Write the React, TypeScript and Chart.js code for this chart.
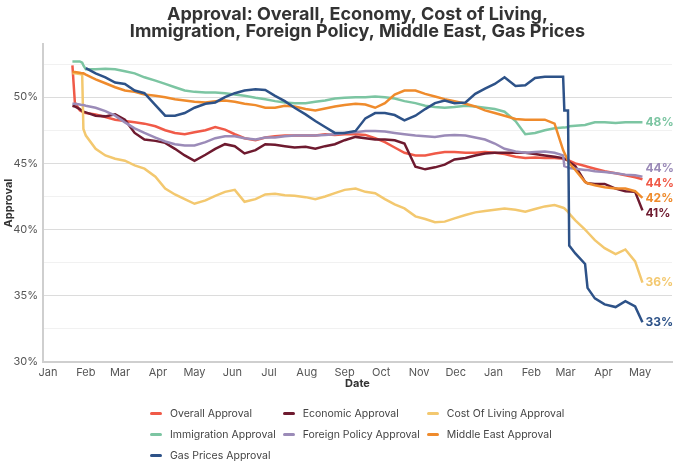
import React, { useEffect, useRef } from "react";
import { Chart, registerables } from "chart.js";

Chart.register(...registerables);

const FONT = "Inter, 'Open Sans', sans-serif";

const titleLines = [
  "Approval: Overall, Economy, Cost of Living,",
  "Immigration, Foreign Policy, Middle East, Gas Prices",
];

// Days since 1 Jan 2025
const days = [
  20, 22, 26, 28, 29, 31, 39, 47, 55, 63, 71, 79, 88, 96, 104, 112, 120, 129, 137, 145, 153, 161,
  170, 178, 186, 194, 202, 211, 219, 227, 235, 243, 252, 260, 268, 276, 284, 292, 301, 309, 317,
  325, 333, 342, 350, 358, 366, 374, 383, 391, 399, 407, 415, 422, 423, 426, 427, 432, 440, 442,
  448, 456, 465, 473, 481, 487,
];

const overallApproval = [
  52.4, 49.6, 49.0, 48.9, 48.85, 48.8, 48.7, 48.5, 48.3, 48.2, 48.1, 48.0, 47.8, 47.5, 47.3, 47.2,
  47.35, 47.5, 47.75, 47.55, 47.2, 46.9, 46.75, 46.95, 47.05, 47.1, 47.1, 47.1, 47.1, 47.2, 47.15,
  47.2, 47.2, 47.15, 46.9, 46.6, 46.2, 45.8, 45.6, 45.6, 45.75, 45.85, 45.85, 45.8, 45.8, 45.85,
  45.8, 45.7, 45.5, 45.4, 45.45, 45.4, 45.4, 45.35, 45.35, 45.3, 45.2, 45.0, 44.8, 44.75, 44.6,
  44.4, 44.25, 44.1, 43.95, 43.8,
];

const economicApproval = [
  49.35, 49.3, 49.1, 48.95, 48.9, 48.85, 48.6, 48.55, 48.7, 48.3, 47.3, 46.8, 46.7, 46.55, 46.1,
  45.6, 45.2, 45.65, 46.1, 46.45, 46.3, 45.75, 46.0, 46.45, 46.4, 46.3, 46.2, 46.25, 46.1, 46.3,
  46.45, 46.75, 47.0, 46.9, 46.8, 46.8, 46.75, 46.5, 44.75, 44.55, 44.7, 44.9, 45.3, 45.4, 45.6,
  45.75, 45.8, 45.8, 45.8, 45.8, 45.7, 45.6, 45.5, 45.4, 45.35, 45.2, 45.1, 44.8, 43.6, 43.5,
  43.45, 43.45, 43.1, 42.9, 42.85, 41.45,
];

const costOfLivingApproval = [
  51.8, 51.8, 51.75, 51.7, 47.6, 47.1, 46.1, 45.6, 45.35, 45.2, 44.85, 44.6, 44.0, 43.1, 42.65,
  42.3, 41.95, 42.2, 42.55, 42.85, 43.0, 42.1, 42.3, 42.65, 42.7, 42.6, 42.55, 42.45, 42.3, 42.5,
  42.75, 43.0, 43.1, 42.85, 42.75, 42.3, 41.9, 41.6, 41.0, 40.8, 40.55, 40.6, 40.85, 41.1, 41.3,
  41.4, 41.5, 41.6, 41.5, 41.35, 41.55, 41.75, 41.85, 41.65, 41.6, 41.35, 41.2, 40.7, 40.0, 39.8,
  39.2, 38.6, 38.15, 38.5, 37.6, 36.0,
];

const immigrationApproval = [
  52.7, 52.7, 52.7, 52.6, 52.4, 52.1, 52.1, 52.15, 52.1, 51.95, 51.8, 51.5, 51.25, 51.0, 50.75,
  50.5, 50.4, 50.35, 50.35, 50.3, 50.2, 50.1, 49.95, 49.85, 49.7, 49.6, 49.55, 49.55, 49.65, 49.75,
  49.9, 49.95, 50.0, 50.0, 50.05, 50.0, 49.9, 49.7, 49.55, 49.35, 49.25, 49.2, 49.25, 49.35, 49.3,
  49.2, 49.1, 48.9, 48.2, 47.2, 47.3, 47.5, 47.65, 47.7, 47.7, 47.75, 47.8, 47.85, 47.9, 47.95,
  48.1, 48.1, 48.05, 48.1, 48.1, 48.1,
];

const foreignPolicyApproval = [
  49.5, 49.5, 49.45, 49.4, 49.4, 49.35, 49.2, 48.95, 48.6, 48.1, 47.65, 47.3, 46.95, 46.65, 46.45,
  46.35, 46.35, 46.6, 46.9, 47.05, 47.05, 46.9, 46.8, 46.95, 46.95, 47.05, 47.1, 47.1, 47.1, 47.15,
  47.2, 47.3, 47.35, 47.45, 47.45, 47.4, 47.3, 47.2, 47.1, 47.05, 47.0, 47.1, 47.15, 47.1, 46.95,
  46.8, 46.5, 46.1, 45.9, 45.8, 45.85, 45.9, 45.8, 45.6, 44.8, 44.7, 44.65, 44.6, 44.5, 44.5,
  44.4, 44.35, 44.25, 44.15, 44.1, 44.0,
];

const middleEastApproval = [
  51.9, 51.9, 51.85, 51.8, 51.8, 51.7, 51.35, 51.05, 50.75, 50.5, 50.4, 50.2, 50.1, 50.0, 49.85,
  49.75, 49.65, 49.6, 49.7, 49.75, 49.65, 49.5, 49.4, 49.2, 49.2, 49.35, 49.3, 49.1, 49.0, 49.15,
  49.3, 49.4, 49.5, 49.45, 49.2, 49.55, 50.2, 50.5, 50.5, 50.25, 50.05, 49.85, 49.7, 49.5, 49.3,
  49.0, 48.8, 48.6, 48.35, 48.3, 48.3, 48.3, 48.0, 46.0, 45.8, 45.2, 45.0, 44.5, 43.6, 43.5,
  43.35, 43.2, 43.1, 43.1, 42.9, 42.4,
];

const gasPricesApproval = [
  null, null, null, null, null, 52.2, 51.8, 51.5, 51.1, 51.0, 50.5, 50.3, 49.4, 48.6, 48.6,
  48.8, 49.2, 49.5, 49.6, 50.0, 50.3, 50.5, 50.6, 50.55, 50.1, 49.7, 49.2, 48.7, 48.2, 47.75,
  47.3, 47.3, 47.45, 48.4, 48.8, 48.8, 48.65, 48.25, 48.6, 49.1, 49.55, 49.75, 49.55, 49.6, 50.25,
  50.65, 51.0, 51.5, 50.85, 50.9, 51.45, 51.55, 51.55, 51.55, 49.0, 49.0, 38.8, 38.2, 37.4, 35.6,
  34.8, 34.35, 34.15, 34.6, 34.2, 33.0,
];

const seriesNames = [
  "Overall Approval",
  "Economic Approval",
  "Cost Of Living Approval",
  "Immigration Approval",
  "Foreign Policy Approval",
  "Middle East Approval",
  "Gas Prices Approval",
];

const seriesColors = [
  "#f05a48",
  "#6e1a2f",
  "#f3c86f",
  "#7cc5a2",
  "#9b8bb8",
  "#ef8b2c",
  "#2d5288",
];

const seriesValues = [
  overallApproval,
  economicApproval,
  costOfLivingApproval,
  immigrationApproval,
  foreignPolicyApproval,
  middleEastApproval,
  gasPricesApproval,
];

const monthTickDays = [0, 31, 59, 90, 120, 151, 181, 212, 243, 273, 304, 334, 365, 396, 424, 455, 485];
const monthTickLabels = [
  "Jan", "Feb", "Mar", "Apr", "May", "Jun", "Jul", "Aug", "Sep", "Oct", "Nov", "Dec",
  "Jan", "Feb", "Mar", "Apr", "May",
];
const approvalTicks = [30, 32.5, 35, 37.5, 40, 42.5, 45, 47.5, 50, 52.5];

const endLabelsPlugin = {
  id: "endLabels",
  afterDatasetsDraw(chart: any) {
    const ctx = chart.ctx;
    const items: any[] = [];
    chart.data.datasets.forEach((ds: any, i: number) => {
      const meta = chart.getDatasetMeta(i);
      let k = ds.data.length - 1;
      while (k >= 0 && ds.data[k].y == null) k--;
      if (k < 0) return;
      const el = meta.data[k];
      items.push({
        x: el.x,
        y: el.y,
        text: Math.round(ds.data[k].y) + "%",
        color: ds.borderColor,
      });
    });
    items.sort((a, b) => a.y - b.y);
    const gap = 15;
    for (let it = 0; it < 200; it++) {
      for (let i = 0; i < items.length - 1; i++) {
        const d = items[i + 1].y - items[i].y;
        if (d < gap) {
          const s = (gap - d) / 2;
          items[i].y -= s;
          items[i + 1].y += s;
        }
      }
    }
    ctx.save();
    ctx.font = `700 12px ${FONT}`;
    ctx.textAlign = "left";
    ctx.textBaseline = "middle";
    items.forEach((it) => {
      ctx.fillStyle = it.color;
      ctx.fillText(it.text, it.x + 3, it.y);
    });
    ctx.restore();
  },
};

export default function App() {
  const canvasRef = useRef<HTMLCanvasElement | null>(null);

  useEffect(() => {
    document.body.style.margin = "0";
    const canvas = canvasRef.current;
    if (!canvas) return;
    const chart = new Chart(canvas, {
      type: "line",
      data: {
        datasets: seriesNames.map((name, i) => ({
          label: name,
          data: days.map((d, k) => ({ x: d, y: seriesValues[i][k] })),
          borderColor: seriesColors[i],
          backgroundColor: seriesColors[i],
          borderWidth: 2.5,
          pointRadius: 0,
          tension: 0,
          order: seriesNames.length - i,
          spanGaps: false,
        })),
      },
      options: {
        animation: false,
        responsive: false,
        layout: { padding: { top: 0, right: 8, bottom: 83, left: 0 } },
        plugins: {
          legend: { display: false },
          tooltip: { enabled: false },
          title: {
            display: true,
            fullSize: false,
            text: titleLines,
            color: "#333",
            font: { family: FONT, size: 18, weight: "bold", lineHeight: 0.95 },
            padding: { top: 6, bottom: 4 },
          },
        },
        scales: {
          x: {
            type: "linear",
            min: -4.1,
            max: 511.2,
            afterBuildTicks: (s: any) => {
              s.ticks = monthTickDays.map((v) => ({ value: v }));
            },
            afterFit: (s: any) => {
              s.height = 28;
            },
            ticks: {
              callback: (_v: any, i: number) => monthTickLabels[i],
              autoSkip: false,
              maxRotation: 0,
              padding: 4,
              color: "#555",
              font: { family: FONT, size: 11 },
            },
            grid: { display: false, drawTicks: false },
            border: { display: true, color: "#cfcfcf", width: 2 },
            title: {
              display: true,
              text: "Date",
              color: "#333",
              font: { family: FONT, size: 11, weight: "bold" },
              padding: { top: 0, bottom: 0 },
            },
          },
          y: {
            min: 30,
            max: 54,
            afterBuildTicks: (s: any) => {
              s.ticks = approvalTicks.map((v) => ({ value: v }));
            },
            afterFit: (s: any) => {
              s.width = 43;
            },
            ticks: {
              callback: (v: any) => (v % 5 === 0 ? v + "%" : ""),
              padding: 5,
              color: "#555",
              font: { family: FONT, size: 11 },
            },
            grid: {
              drawTicks: false,
              color: (c: any) => (c.tick && c.tick.value % 5 === 0 ? "#dcdcdc" : "#f1f1f1"),
              lineWidth: 1,
            },
            border: { display: true, color: "#cfcfcf", width: 2 },
            title: {
              display: true,
              text: "Approval",
              color: "#333",
              font: { family: FONT, size: 11, weight: "bold" },
              padding: { top: 2, bottom: 0 },
            },
          },
        },
      },
      plugins: [endLabelsPlugin],
    } as any);
    return () => chart.destroy();
  }, []);

  return (
    <div style={{ position: "fixed", left: 0, top: 0, width: 680, height: 473, background: "#fff" }}>
      <canvas ref={canvasRef} width={680} height={473} style={{ width: 680, height: 473, display: "block" }} />
      <div
        style={{
          position: "absolute",
          top: 406,
          left: 150,
          display: "grid",
          gridTemplateColumns: "auto auto auto",
          columnGap: 7,
          rowGap: 7,
        }}
      >
        {seriesNames.map((name, i) => (
          <div key={name} style={{ display: "flex", alignItems: "center", height: 14 }}>
            <span
              style={{
                display: "inline-block",
                width: 12,
                height: 3,
                borderRadius: 2,
                background: seriesColors[i],
                marginRight: 8,
              }}
            />
            <span style={{ fontFamily: FONT, fontSize: 10.5, color: "#444", whiteSpace: "nowrap" }}>{name}</span>
          </div>
        ))}
      </div>
    </div>
  );
}
